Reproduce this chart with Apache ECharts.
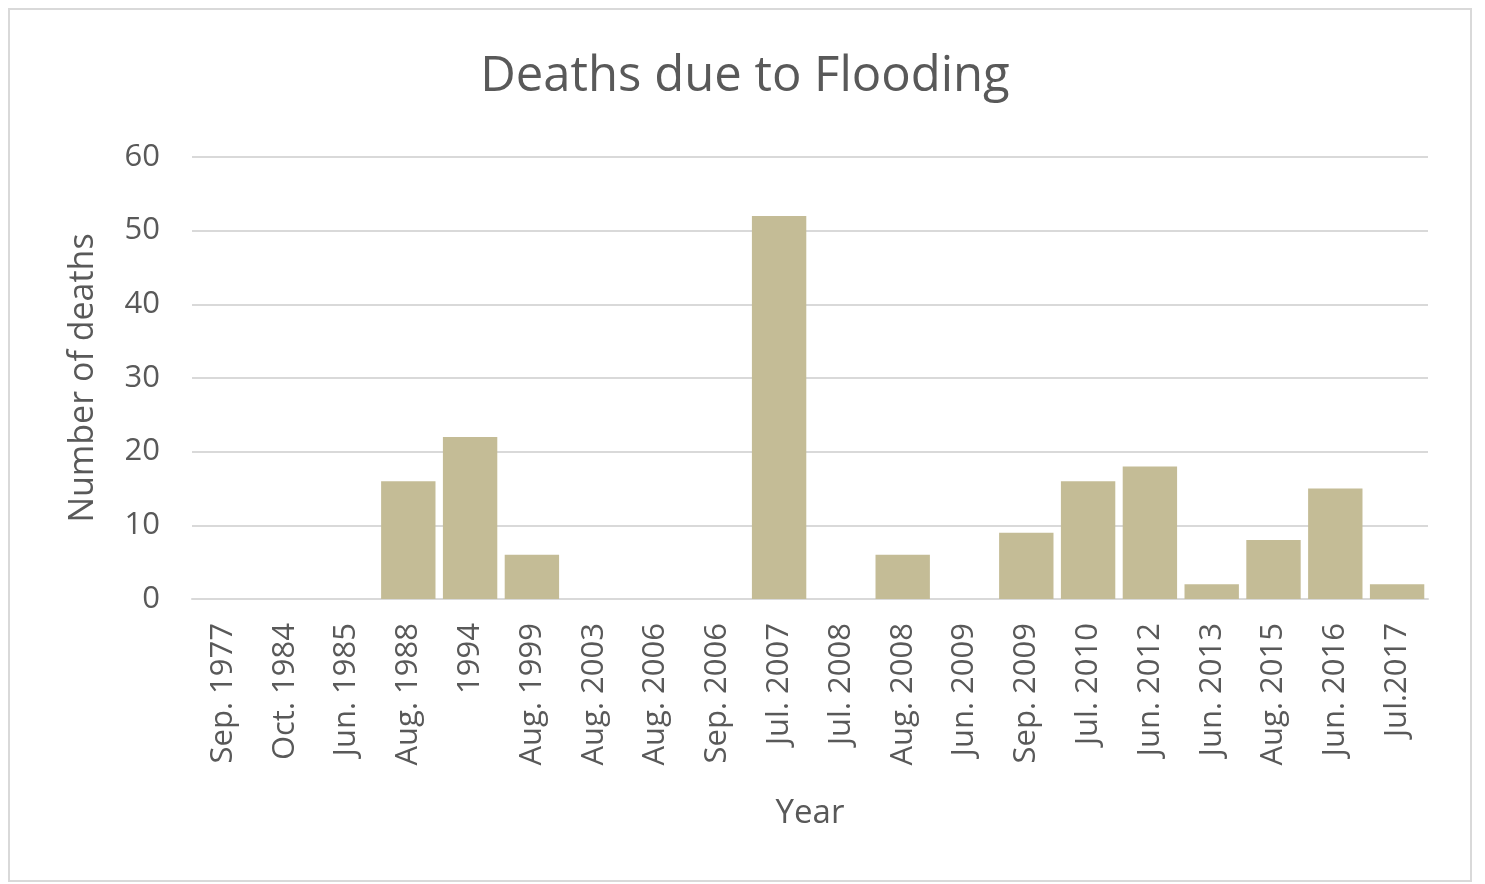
<!DOCTYPE html>
<html>
<head>
<meta charset="utf-8">
<script src="https://cdn.jsdelivr.net/npm/echarts@6/dist/echarts.min.js"></script>
<style>
  html, body { margin: 0; padding: 0; background: #fff; }
  #frame { position: absolute; left: 8px; top: 8px; width: 1464px; height: 874px; border: 2px solid #d9d9d9; box-sizing: border-box; }
  #chart { width: 1485px; height: 884px; }
</style>
</head>
<body>
<div id="frame"></div>
<div id="chart"></div>
<script>
// categories and values
const years = ['Sep. 1977', 'Oct. 1984', 'Jun. 1985', 'Aug. 1988', '1994', 'Aug. 1999', 'Aug. 2003',
  'Aug. 2006', 'Sep. 2006', 'Jul. 2007', 'Jul. 2008', 'Aug. 2008', 'Jun. 2009', 'Sep. 2009',
  'Jul. 2010', 'Jun. 2012', 'Jun. 2013', 'Aug. 2015', 'Jun. 2016', 'Jul.2017'];
const deaths = [0, 0, 0, 16, 22, 6, 0, 0, 0, 52, 0, 6, 0, 9, 16, 18, 2, 8, 15, 2];
const yTicks = [0, 10, 20, 30, 40, 50, 60];

const font = '"Open Sans", "Noto Sans", sans-serif';
const textColor = '#595959';

const chart = echarts.init(document.getElementById('chart'));

const option = {
  animation: false,
  title: {
    text: 'Deaths due to Flooding',
    left: 740,
    top: 48,
    textAlign: 'center',
    textStyle: { fontFamily: font, fontSize: 49, fontWeight: 'normal', color: textColor },
  },
  grid: { left: 192, right: 57, top: 157, bottom: 285, containLabel: false },
  xAxis: {
    type: 'category',
    data: years,
    name: 'Year',
    nameLocation: 'middle',
    nameGap: 198,
    nameTextStyle: { fontFamily: font, fontSize: 33, color: textColor },
    axisLine: { lineStyle: { color: '#d9d9d9', width: 2 } },
    axisTick: { show: false },
    axisLabel: {
      rotate: 90,
      interval: 0,
      margin: 24,
      fontFamily: font,
      fontSize: 31,
      color: textColor,
    },
  },
  yAxis: {
    type: 'value',
    min: yTicks[0],
    max: yTicks[yTicks.length - 1],
    interval: 10,
    name: 'Number of deaths',
    nameLocation: 'middle',
    nameGap: 92,
    nameTextStyle: { fontFamily: font, fontSize: 34, color: textColor },
    axisLine: { show: false },
    axisTick: { show: false },
    axisLabel: { margin: 32, fontFamily: font, fontSize: 31, color: textColor },
    splitLine: { lineStyle: { color: '#d9d9d9', width: 2 } },
  },
  series: [
    {
      type: 'bar',
      data: deaths,
      barCategoryGap: '12%',
      itemStyle: { color: '#c4bc96' },
    },
  ],
};

chart.setOption(option);
</script>
</body>
</html>
